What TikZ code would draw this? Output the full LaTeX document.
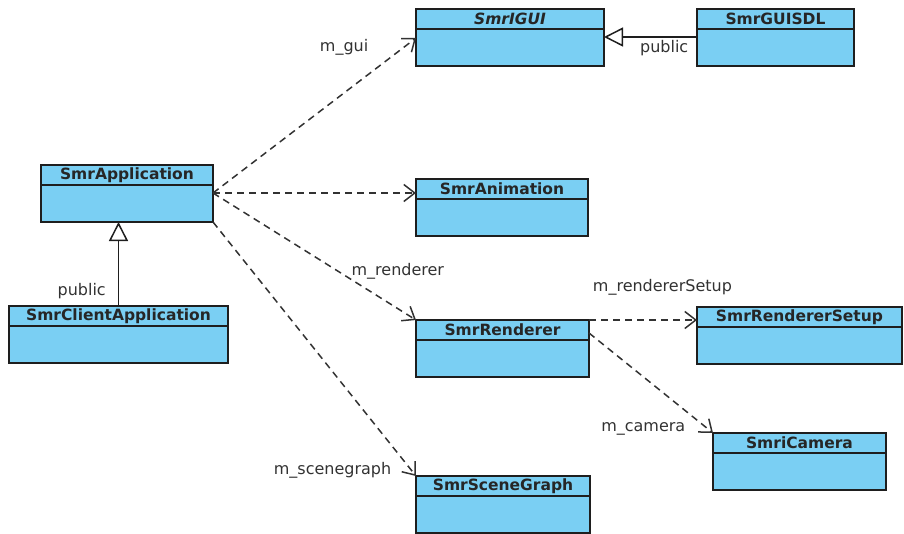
\documentclass[tikz,border=0pt]{standalone}
\usepackage{fontspec}
\setmainfont{DejaVu Sans}
\usepackage{xcolor}
\usetikzlibrary{arrows.meta,positioning}
\definecolor{clsfill}{RGB}{122,207,243}
\definecolor{clsline}{RGB}{30,30,30}
\definecolor{lnk}{RGB}{50,50,50}

\begin{document}
\begin{tikzpicture}[
  x=1pt, y=-1pt,
  cls/.style={rectangle, draw=clsline, fill=clsfill, line width=1.7pt, outer sep=0pt,
              anchor=north west, inner sep=0pt, minimum height=20pt,
              font=\fontsize{15.5}{18}\selectfont\bfseries, text=black!85},
  attr/.style={rectangle, draw=clsline, fill=clsfill, line width=1.7pt, outer sep=0pt,
              inner sep=0pt, minimum height=37pt, below=0pt of #1},
  dep/.style={draw=lnk, line width=1.5pt, dash pattern=on 7pt off 5pt,
              -{Straight Barb[length=11pt, width=17pt]}},
  inh/.style={draw=clsline, line width=1.5pt,
              -{Triangle[open, fill=white, length=19pt, width=19pt]}},
  lbl/.style={font=\fontsize{16}{19}\selectfont, text=lnk, inner sep=2pt}
]
\useasboundingbox (0,0) rectangle (904,533);
% classes
\node[cls, minimum width=188pt] (igui) at (416,9) {\itshape SmrIGUI};
\node[attr=igui, minimum width=188pt] (igui-b) {};
\node[cls, minimum width=157pt] (sdl) at (697,9) {SmrGUISDL};
\node[attr=sdl, minimum width=157pt] (sdl-b) {};
\node[cls, minimum width=172pt] (app) at (41,165) {SmrApplication};
\node[attr=app, minimum width=172pt] (app-b) {};
\node[cls, minimum width=219pt] (client) at (9,306) {SmrClientApplication};
\node[attr=client, minimum width=219pt] (client-b) {};
\node[cls, minimum width=172pt] (anim) at (416,179) {SmrAnimation};
\node[attr=anim, minimum width=172pt] (anim-b) {};
\node[cls, minimum width=173pt] (rend) at (416,320) {SmrRenderer};
\node[attr=rend, minimum width=173pt] (rend-b) {};
\node[cls, minimum width=205pt] (rsetup) at (697,307) {SmrRendererSetup};
\node[attr=rsetup, minimum width=205pt] (rsetup-b) {};
\node[cls, minimum width=173pt] (cam) at (713,433) {SmriCamera};
\node[attr=cam, minimum width=173pt] (cam-b) {};
\node[cls, minimum width=174pt] (scene) at (416,476) {SmrSceneGraph};
\node[attr=scene, minimum width=174pt] (scene-b) {};
% inheritance
\draw[inh] ([yshift=-8pt]sdl-b.north west) -- ([yshift=-8pt]igui-b.north east)
  node[lbl, pos=0, anchor=north east, xshift=-6pt, yshift=-1pt] {public};
\draw[inh] (client.north) -- (client.north |- app-b.south)
  node[lbl, pos=0, anchor=south east, xshift=-10pt, yshift=4pt] {public};
% associations
\coordinate (appc) at ([yshift=-8pt]app-b.north east);
\draw[dep] (appc) -- ([yshift=-9pt]igui-b.north west)
  node[lbl, pos=1, anchor=east, xshift=-45pt, yshift=-9pt] {m\_gui};
\draw[dep] (appc) -- ([yshift=-14pt]anim.north west);
\draw[dep] (appc) -- (rend.north west)
  node[lbl, pos=0.62, anchor=west, xshift=10pt] {m\_renderer};
\draw[dep] (app-b.south east) -- (scene.north west)
  node[lbl, pos=1, anchor=east, xshift=-22pt, yshift=6pt] {m\_scenegraph};
\draw[dep] (rend.north east) -- ([yshift=-13pt]rsetup.north west)
  node[lbl, pos=0.68, above=22pt] {m\_rendererSetup};
\draw[dep] ([yshift=-13pt]rend.north east) -- (cam.north west)
  node[lbl, pos=1, anchor=east, xshift=-25pt, yshift=4pt] {m\_camera};
\end{tikzpicture}
\end{document}
